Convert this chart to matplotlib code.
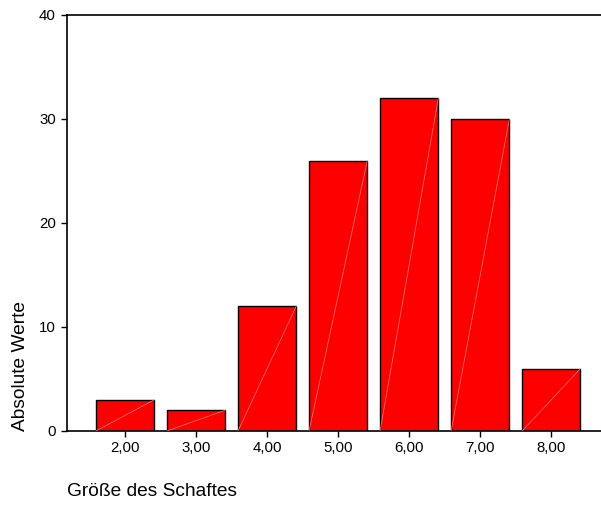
import matplotlib
matplotlib.use("Agg")
import matplotlib.pyplot as plt

categories = [2, 3, 4, 5, 6, 7, 8]
tick_labels = ["2,00", "3,00", "4,00", "5,00", "6,00", "7,00", "8,00"]
counts = [3, 2, 12, 26, 32, 30, 6]
y_ticks = [0, 10, 20, 30, 40]

plt.rcParams['font.family'] = ['Liberation Sans', 'DejaVu Sans']

fig = plt.figure(figsize=(6.01, 5.05), dpi=100)
ax = fig.add_axes([67/601, 1 - 431/505, (601 - 67)/601, (431 - 15)/505])

width = 0.82
ax.bar(categories, counts, width=width, color='#ff0000', edgecolor='black', linewidth=1.0, zorder=2)
for c, v in zip(categories, counts):
    ax.plot([c - width/2, c + width/2], [0, v], color='#ff8080', linewidth=0.5, zorder=3)

ax.set_xlim(1.183, 8.70)
ax.set_ylim(0, 40)
ax.set_xticks(categories)
ax.set_xticklabels(tick_labels, fontsize=10.8)
ax.set_yticks(y_ticks)
ax.set_yticklabels([str(t) for t in y_ticks], fontsize=10.8)
ax.tick_params(axis='both', direction='out', length=4, width=1, color='black')
ax.tick_params(axis='x', pad=3)
ax.tick_params(axis='y', pad=4)

for s in ['left', 'top', 'bottom']:
    ax.spines[s].set_linewidth(1.2)
    ax.spines[s].set_color('black')
ax.spines['right'].set_visible(False)

fig.text(21/601, 1 - 366/505, "Absolute Werte", rotation=90, ha='center', va='center', fontsize=13.8)
fig.text(67/601, 1 - 492/505, "Größe des Schaftes", ha='left', va='center', fontsize=13.8)

fig.savefig("out.png", dpi=100)
